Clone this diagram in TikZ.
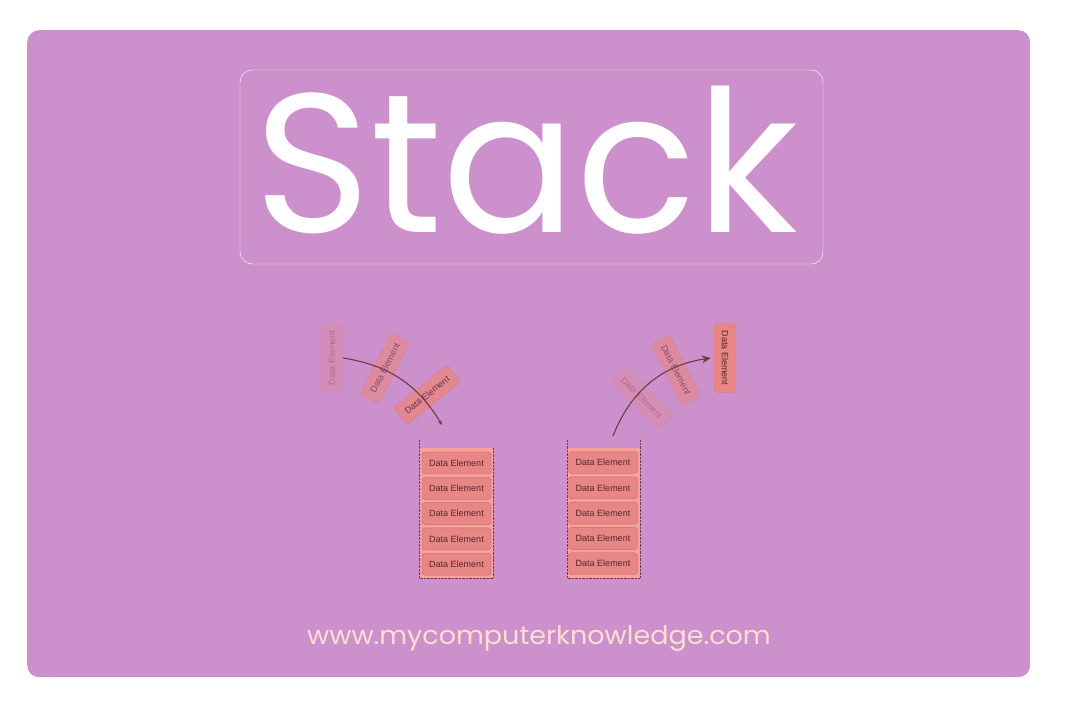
\documentclass[tikz,border=0pt]{standalone}
\usepackage{fontspec}
\setmainfont{Liberation Sans}
\newfontfamily\gothic{Poppins}
\usepackage{tikz}
\usetikzlibrary{arrows.meta,positioning}
\definecolor{stackpurple}{RGB}{204,145,204}
\definecolor{elemfill}{RGB}{232,134,134}
\definecolor{elemline}{RGB}{196,108,112}
\definecolor{elemtext}{RGB}{85,40,45}
\definecolor{binfill}{RGB}{248,160,156}
\definecolor{arrowcol}{RGB}{112,58,70}
\definecolor{urlcol}{RGB}{250,222,210}

\tikzset{
    elem/.style={draw=elemline, fill=elemfill, text=elemtext, rounded corners=3pt,
        minimum width=69pt, minimum height=22pt, inner sep=0pt,
        font=\fontsize{9}{9}\selectfont},
    floating/.style={elem, densely dotted},
    bin/.style={draw=arrowcol, densely dotted, thin},
    move/.style={draw=arrowcol, line width=1.1pt}
}

\begin{document}
\begin{tikzpicture}[x=1pt,y=-1pt]
    \useasboundingbox (0,0) rectangle (1068,712);
    \fill[white] (0,0) rectangle (1068,712);
    \node[fill=stackpurple, rounded corners=12pt, minimum width=1003pt, minimum height=647pt,
        anchor=north west, inner sep=0pt] (panel) at (27,30) {};

    % title
    \node[draw=white, rounded corners=12pt, minimum width=583pt, minimum height=194pt,
        inner sep=0pt] (titlebox) at (531.5,167) {};
    \node[text=white, font=\gothic\fontsize{198}{198}\selectfont, inner sep=0pt] (title) at (526.5,160) {Stack};

    % push side
    \fill[binfill] (419,448) rectangle (493,578);
    \draw[bin] (419,440) -- (419,578) -- (493,578) -- (493,448);
    \foreach \i in {1,...,5}
        \node[elem] (lst\i) at (456.5,437.7+25.3*\i) {Data Element};
    \node[floating, rotate=90, opacity=0.3] (lp1) at (332,358) {Data Element};
    \node[floating, rotate=63, opacity=0.6] (lp2) at (385,368) {Data Element};
    \node[floating, rotate=39, opacity=0.85] (lp3) at (427,395) {Data Element};
    \coordinate (ldrop) at (442,425);

    % pop side
    \fill[binfill] (567,448) rectangle (640,578);
    \draw[bin] (567,440) -- (567,578) -- (640,578) -- (640,440);
    \foreach \i in {1,...,5}
        \node[elem] (rst\i) at (603,437.2+25.3*\i) {Data Element};
    \node[floating, rotate=-45, opacity=0.3] (rp1) at (642,398) {Data Element};
    \node[floating, rotate=-63, opacity=0.6] (rp2) at (676,370) {Data Element};
    \node[floating, rotate=-90] (rp3) at (725,358) {Data Element};
    \coordinate (rlift) at (613,436);

    \draw[move, -{Stealth[length=5pt,width=4pt]}] (lp1.south) to[bend left=25] (ldrop);
    \draw[move, -{Stealth[length=9pt,width=8pt]}] (rlift) to[bend left=30] ([xshift=-3pt]rp3.south);

    \node[text=urlcol, font=\gothic\fontsize{25.5}{25.5}\selectfont, inner sep=0pt, xscale=1.06] (url) at (539,638)
        {www.mycomputerknowledge.com};
\end{tikzpicture}
\end{document}
